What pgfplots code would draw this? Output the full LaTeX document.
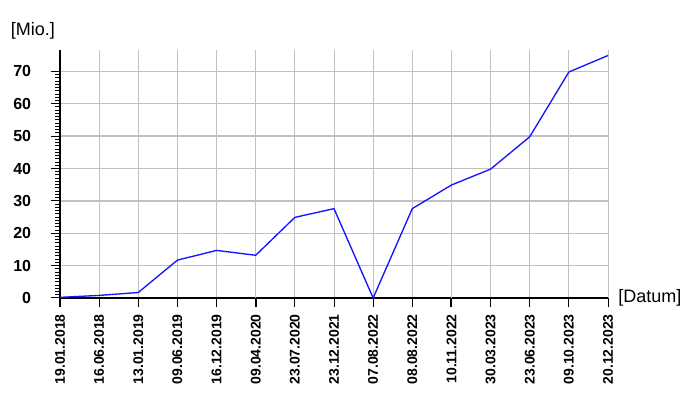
\documentclass[border=0pt]{standalone}
\usepackage{pgfplots}
\pgfplotsset{compat=1.18}
\usepackage{fontspec}
\setmainfont{Liberation Sans}
\definecolor{gridc}{RGB}{192,192,192}
\definecolor{lineblue}{RGB}{20,20,255}
\begin{document}
\begin{tikzpicture}
\useasboundingbox (0pt,0pt) rectangle (525pt,300pt);
\begin{axis}[
  at={(45pt,76.5pt)}, anchor=origin,
  scale only axis, width=411pt, height=186pt,
  xmin=0, xmax=14, ymin=0, ymax=76.6,
  enlargelimits=false,
  axis lines=left,
  axis line style={-, line width=1.5pt, black},
  xtick={0,...,14},
  xticklabels={19.01.2018,16.06.2018,13.01.2019,09.06.2019,16.12.2019,09.04.2020,23.07.2020,23.12.2021,07.08.2022,08.08.2022,10.11.2022,30.03.2023,23.06.2023,09.10.2023,20.12.2023},
  xticklabel style={rotate=90, anchor=east, font=\bfseries\fontsize{10.5}{12}\selectfont, inner xsep=5pt, inner ysep=1pt},
  ytick={0,10,...,70},
  minor y tick num=9,
  yticklabel style={anchor=east, font=\bfseries\fontsize{12}{14}\selectfont, inner xsep=14.5pt},
  /pgf/number format/assume math mode=true,
  tick align=outside,
  xtick pos=left, ytick pos=left,
  major tick length=7pt,
  minor tick length=3.5pt,
  tick style={black, line width=0.75pt},
  xmajorgrids, ymajorgrids,
  every axis x grid/.style={gridc, line width=0.75pt},
  every axis y grid/.style={gridc, line width=1.1pt},
  extra x ticks={5,10},
  extra x tick labels={},
  extra x tick style={grid=major, major grid style={gridc, line width=1.5pt}, tick style={black, line width=1.5pt}},
  clip=false,
]
\addplot[lineblue, line width=1pt, no markers] coordinates {
(0,0.2) (1,0.8) (2,1.7) (3,11.7) (4,14.7) (5,13.2) (6,24.9) (7,27.6) (8,0) (9,27.6) (10,34.9) (11,39.8) (12,49.8) (13,69.8) (14,74.9)
};
\end{axis}
\node[anchor=west, inner sep=0pt, font=\fontsize{13.5}{15}\selectfont] at (8pt,276.5pt) {[Mio.]};
\node[anchor=west, inner sep=0pt, font=\fontsize{13.5}{15}\selectfont] at (463.5pt,76.5pt) {[Datum]};
\end{tikzpicture}
\end{document}
